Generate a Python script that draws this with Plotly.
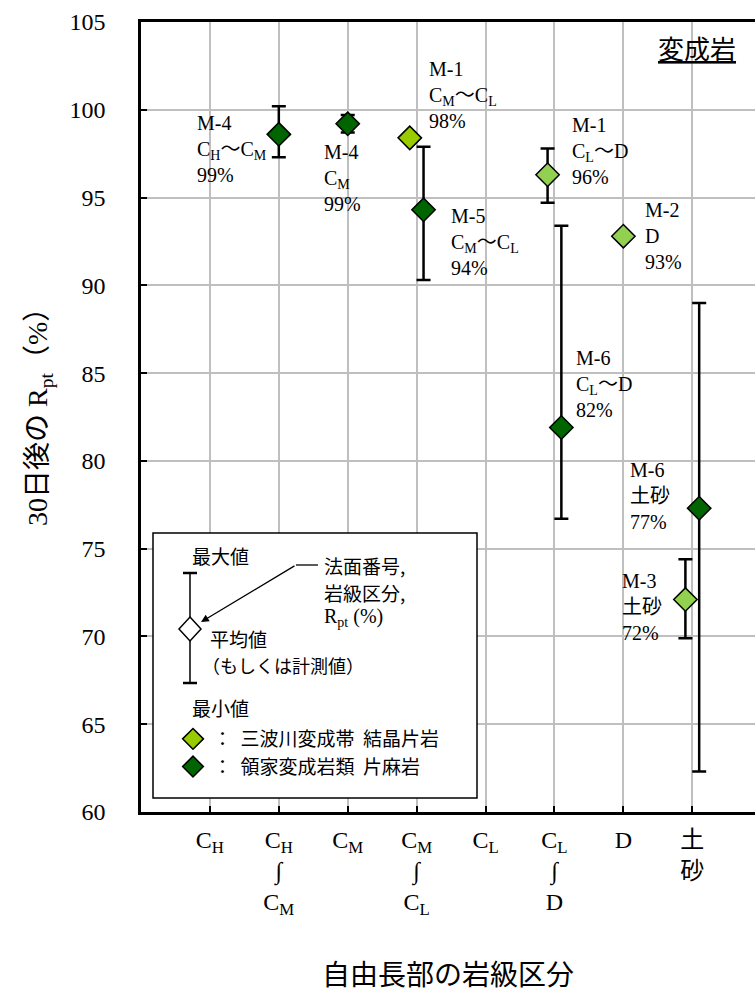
import plotly.graph_objects as go

# ---------------- data ----------------
categories = ["CH", "CH~CM", "CM", "CM~CL", "CL", "CL~D", "D", "土砂"]
WAVE = "∫"
tick_text = [
    "C<sub>H</sub>",
    f"C<sub>H</sub><br>{WAVE}<br>C<sub>M</sub>",
    "C<sub>M</sub>",
    f"C<sub>M</sub><br>{WAVE}<br>C<sub>L</sub>",
    "C<sub>L</sub>",
    f"C<sub>L</sub><br>{WAVE}<br>D",
    "D",
    "土<br>砂",
]
grade_label = {
    "CH~CM": "C<sub>H</sub>～C<sub>M</sub>",
    "CM": "C<sub>M</sub>",
    "CM~CL": "C<sub>M</sub>～C<sub>L</sub>",
    "CL~D": "C<sub>L</sub>～D",
    "D": "D",
    "土砂": "土砂",
}

# 三波川変成帯 結晶片岩
sanba_cat = ["CM~CL", "CL~D", "D", "土砂"]
sanba_site = ["M-1", "M-1", "M-2", "M-3"]
sanba_mean = [98.4, 96.3, 92.8, 72.1]
sanba_max = [None, 97.8, None, 74.4]
sanba_min = [None, 94.7, None, 69.9]
sanba_pct = ["98%", "96%", "93%", "72%"]

# 領家変成岩類 片麻岩
ryoke_cat = ["CH~CM", "CM", "CM~CL", "CL~D", "土砂"]
ryoke_site = ["M-4", "M-4", "M-5", "M-6", "M-6"]
ryoke_mean = [98.6, 99.2, 94.3, 81.9, 77.3]
ryoke_max = [100.2, 99.7, 97.9, 93.4, 89.0]
ryoke_min = [97.3, 98.7, 90.3, 76.7, 62.3]
ryoke_pct = ["99%", "99%", "94%", "82%", "77%"]

y_ticks = [60, 65, 70, 75, 80, 85, 90, 95, 100, 105]

# ---------------- styles ----------------
sanba_colors = ["#99CC00", "#92D050", "#92D050", "#92D050"]
ryoke_color = "#006400"
sanba_label_shift = [(17, 43), (22, 24), (20, 0), (-65, -7)]
ryoke_label_shift = [(-84, -15), (-26, -54), (25, -32), (13, 44), (-71, 12)]

LAT = "Liberation Serif, Noto Sans CJK JP, serif"
JP = "Noto Sans CJK JP, sans-serif"

W, H = 755, 995
ML, MR, MT, MB = 141, 0, 22, 183
PW, PH = W - ML - MR, H - MT - MB


def px(x):
    return (x - ML) / PW


def py(y):
    return (H - MB - y) / PH


shared = set(sanba_cat) & set(ryoke_cat)


def xpos(cats, off):
    return [categories.index(c) + (off if c in shared else 0) for c in cats]


def err(mean, mx, mn):
    plus = [(a - m) if a is not None else 0 for m, a in zip(mean, mx)]
    minus = [(m - b) if b is not None else 0 for m, b in zip(mean, mn)]
    return plus, minus


fig = go.Figure()

sx = xpos(sanba_cat, -0.1)
rx = xpos(ryoke_cat, 0.1)

sp, sm = err(sanba_mean, sanba_max, sanba_min)
rp, rm = err(ryoke_mean, ryoke_max, ryoke_min)

fig.add_trace(go.Scatter(
    x=sx, y=sanba_mean, mode="markers",
    name="：\u00a0\u00a0三波川変成帯\u00a0\u00a0結晶片岩",
    marker=dict(symbol="diamond", size=18, color=sanba_colors,
                line=dict(color="black", width=1.5)),
    error_y=dict(type="data", symmetric=False, array=sp, arrayminus=sm,
                 color="black", thickness=2.5, width=7),
))
fig.add_trace(go.Scatter(
    x=rx, y=ryoke_mean, mode="markers",
    name="：\u00a0\u00a0領家変成岩類\u00a0\u00a0片麻岩",
    marker=dict(symbol="diamond", size=18, color=ryoke_color,
                line=dict(color="black", width=1.5)),
    error_y=dict(type="data", symmetric=False, array=rp, arrayminus=rm,
                 color="black", thickness=2.5, width=7),
))

annotations = []
for xs, means, cats, sites, pcts, shifts in [
    (sx, sanba_mean, sanba_cat, sanba_site, sanba_pct, sanba_label_shift),
    (rx, ryoke_mean, ryoke_cat, ryoke_site, ryoke_pct, ryoke_label_shift),
]:
    for x, m, c, s, p, (dx, dy) in zip(xs, means, cats, sites, pcts, shifts):
        annotations.append(dict(
            x=x, y=m, xref="x", yref="y", xanchor="left", yanchor="middle",
            xshift=dx, yshift=dy, showarrow=False, align="left",
            text=f"{s}<br>{grade_label[c]}<br>{p}",
            font=dict(family=LAT, size=20, color="black"),
        ))

# title in corner
annotations.append(dict(
    x=px(697), y=py(48), xref="paper", yref="paper", showarrow=False,
    xanchor="center", yanchor="middle",
    text="<u>変成岩</u>", font=dict(family=JP, size=26, color="black"),
))

# y axis title
annotations.append(dict(
    x=px(40), y=py(410), xref="paper", yref="paper", showarrow=False,
    xanchor="center", yanchor="middle", textangle=-90,
    text="30日後の R<sub>pt</sub>（%）",
    font=dict(family=LAT, size=28, color="black"),
))

# legend key texts
def key_text(t, x, y, size=19, anchor="left"):
    annotations.append(dict(
        x=px(x), y=py(y), xref="paper", yref="paper", showarrow=False,
        xanchor=anchor, yanchor="middle", align="left", text=t,
        font=dict(family=JP, size=size, color="black"),
    ))

key_text("最大値", 190, 555)
key_text("平均値", 208, 638)
key_text("（もしくは計測値）", 200, 665, size=18)
key_text("最小値", 190, 707)
key_text("法面番号,", 322, 565)
key_text("岩級区分,", 322, 592)
annotations.append(dict(
    x=px(322), y=py(617), xref="paper", yref="paper", showarrow=False,
    xanchor="left", yanchor="middle", text="R<sub>pt</sub> (%)",
    font=dict(family=LAT, size=20, color="black"),
))
# arrow (tail offset in pixels)
annotations.append(dict(
    x=px(201), y=py(622), xref="paper", yref="paper",
    ax=95, ay=-57,
    text="", showarrow=True, arrowhead=2, arrowsize=1.2, arrowwidth=1.3,
    arrowcolor="black",
))

shapes = [
    dict(type="rect", xref="paper", yref="paper",
         x0=px(153), x1=px(477), y0=py(533), y1=py(798),
         fillcolor="white", line=dict(color="black", width=1.5), layer="above"),
    # key error bar
    dict(type="line", xref="paper", yref="paper", x0=px(190), x1=px(190),
         y0=py(573), y1=py(683), line=dict(color="black", width=1.5), layer="above"),
    dict(type="line", xref="paper", yref="paper", x0=px(183), x1=px(197),
         y0=py(573), y1=py(573), line=dict(color="black", width=2.5), layer="above"),
    dict(type="line", xref="paper", yref="paper", x0=px(183), x1=px(197),
         y0=py(683), y1=py(683), line=dict(color="black", width=2.5), layer="above"),
    dict(type="path", xref="paper", yref="paper",
         path=f"M {px(190)} {py(617)} L {px(201)} {py(629)} L {px(190)} {py(641)} L {px(179)} {py(629)} Z",
         fillcolor="white", line=dict(color="black", width=1.5), layer="above"),
    dict(type="line", xref="paper", yref="paper", x0=px(296), x1=px(318),
         y0=py(565), y1=py(565), line=dict(color="black", width=1.3), layer="above"),
]

fig.update_layout(
    width=W, height=H,
    margin=dict(l=ML, r=MR, t=MT, b=MB, pad=0),
    paper_bgcolor="white", plot_bgcolor="white",
    font=dict(family=LAT, color="black"),
    showlegend=True,
    legend=dict(x=px(173), y=py(720), xanchor="left", yanchor="top",
                bgcolor="rgba(0,0,0,0)", borderwidth=0,
                font=dict(family=JP, size=19, color="black"),
                itemsizing="trace", tracegroupgap=0),
    annotations=annotations,
    shapes=shapes,
)

fig.update_xaxes(
    range=[-1, 7.91], tickmode="array", tickvals=list(range(len(categories))),
    ticktext=tick_text, showgrid=True, gridcolor="#BFBFBF", gridwidth=1.5,
    ticks="inside", ticklen=6, tickwidth=1.5, tickcolor="black",
    showline=True, linecolor="black", linewidth=2.5, mirror=True,
    zeroline=False, tickfont=dict(family=LAT, size=24, color="black"),
    ticklabelstandoff=4,
    title=dict(text="自由長部の岩級区分", font=dict(family=JP, size=28, color="black"),
               standoff=48),
    automargin=False,
)
fig.update_yaxes(
    range=[60, 105], tickmode="array", tickvals=y_ticks,
    showgrid=True, gridcolor="#BFBFBF", gridwidth=1.5,
    ticks="inside", ticklen=6, tickwidth=1.5, tickcolor="black",
    showline=True, linecolor="black", linewidth=2.5, mirror=False,
    zeroline=False, tickfont=dict(family=LAT, size=24, color="black"),
    ticklabelstandoff=28,
    automargin=False,
)

fig.write_html("out.html")
